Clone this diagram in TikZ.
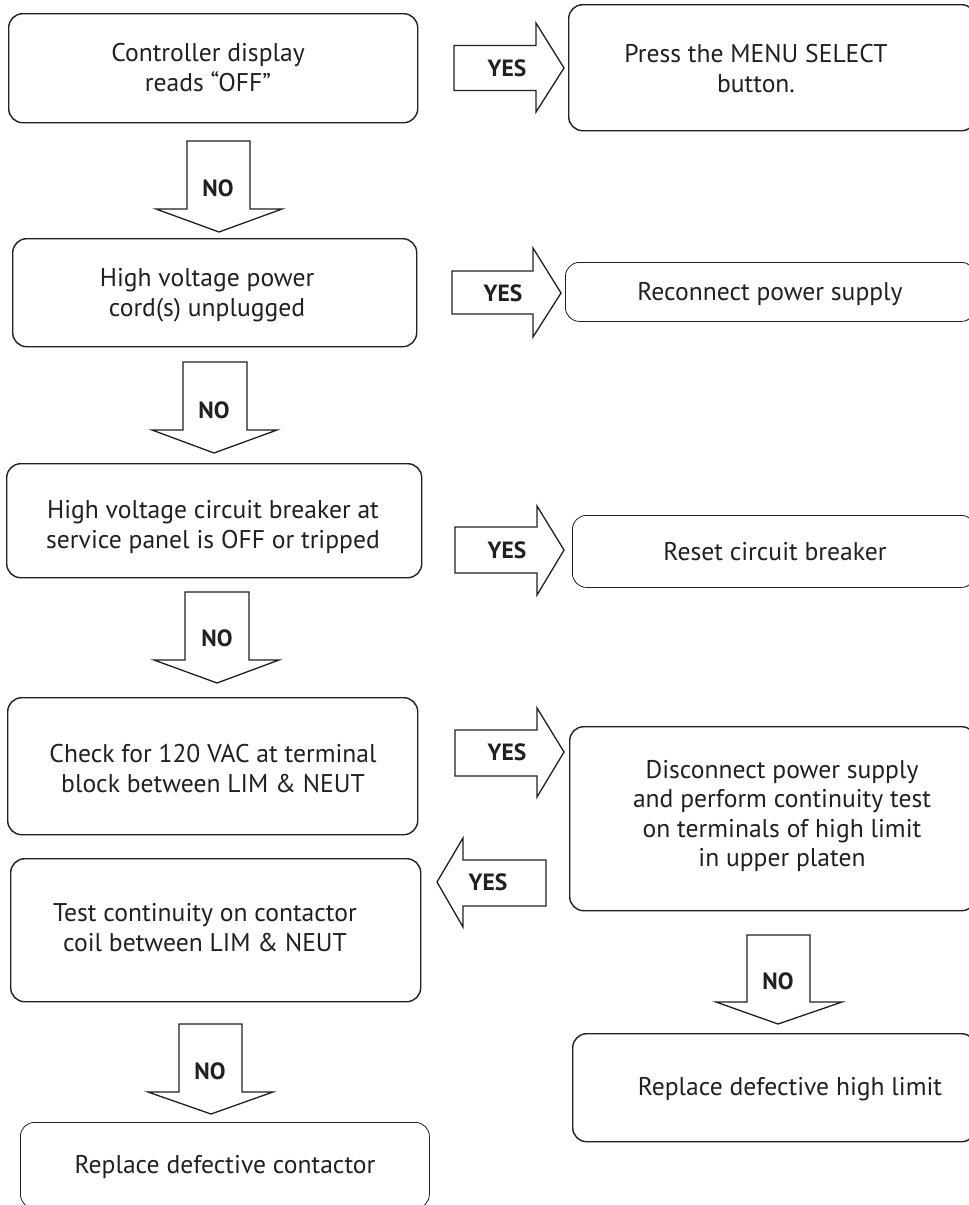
\documentclass[tikz,border=0pt]{standalone}
\usepackage{fontspec}
\setmainfont{PT Sans}
\definecolor{ink}{HTML}{231F20}
\begin{document}
\begin{tikzpicture}[x=1pt,y=-1pt,
  box/.style={draw=ink, line width=1.4pt, rounded corners=14pt, anchor=north west, inner sep=0},
  thinbox/.style={box, line width=0.8pt},
  blk/.style={draw=ink, line width=1.3pt, fill=white, line join=miter},
  txt/.style={text=ink, font=\fontsize{25.6}{30}\selectfont, align=center, inner sep=0},
  lbl/.style={text=ink, font=\bfseries\fontsize{23.5}{28}\selectfont, inner sep=0}]
\useasboundingbox (0,0) rectangle (969,1205);
% boxes
\node[box, minimum width=409pt, minimum height=109pt] (b1) at (8,13) {};
\node[box, minimum width=407pt, minimum height=126pt] (b2) at (568,4) {};
\node[box, minimum width=404pt, minimum height=108pt] (b3) at (12,238) {};
\node[thinbox, minimum width=410pt, minimum height=59pt] (b4) at (565,262) {};
\node[box, minimum width=415pt, minimum height=114pt] (b5) at (6,463) {};
\node[thinbox, minimum width=403pt, minimum height=72pt] (b6) at (572,515) {};
\node[box, minimum width=410pt, minimum height=137pt] (b7) at (7,697) {};
\node[box, minimum width=406pt, minimum height=184pt] (b8) at (569,726) {};
\node[box, minimum width=410pt, minimum height=143pt] (b9) at (10,858) {};
\node[thinbox, minimum width=409pt, minimum height=86pt] (b10) at (20,1122) {};
\node[box, minimum width=403pt, minimum height=108pt] (b11) at (572,1033) {};
% texts
\node[txt] (t1) at (208,68) {Controller display\\reads “OFF”};
\node[txt] (t2) at (756,68.5) {Press the MENU SELECT\\button.};
\node[txt] (t3) at (207,295) {High voltage power\\cord(s) unplugged};
\node[txt, anchor=base] (t4) at (770,300) {Reconnect power supply};
\node[txt] (t5) at (213,527) {High voltage circuit breaker at\\service panel is OFF or tripped};
\node[txt, anchor=base] (t6) at (775,560) {Reset circuit breaker};
\node[txt] (t7) at (213,769) {Check for 120 VAC at terminal\\block between LIM \& NEUT};
\node[txt, font=\fontsize{25.6}{29.5}\selectfont] (t8) at (782,816) {Disconnect power supply\\and perform continuity test\\on terminals of high limit\\in upper platen};
\node[txt] (t9) at (205,928) {Test continuity on contactor\\coil between LIM \& NEUT};
\node[txt, anchor=base] (t10) at (225,1173) {Replace defective contactor};
\node[txt, anchor=base] (t11) at (790,1095) {Replace defective high limit};
% right block arrows
\draw[blk] (454,45.5) -- (536,45.5) -- (536,23) -- (564,68) -- (536,112) -- (536,90.5) -- (454,90.5) -- cycle;
\draw[blk] (452,271) -- (533,271) -- (533,248) -- (561,293) -- (533,337) -- (533,314) -- (452,314) -- cycle;
\draw[blk] (455,527) -- (537,527) -- (537,506) -- (564,550) -- (537,595) -- (537,573) -- (455,573) -- cycle;
\draw[blk] (455,730) -- (537,730) -- (537,708) -- (564,752) -- (537,797) -- (537,776) -- (455,776) -- cycle;
% left block arrow
\draw[blk] (546,860) -- (463,860) -- (463,838) -- (437,882) -- (463,927) -- (463,906) -- (546,906) -- cycle;
% down block arrows
\draw[blk] (187,141) -- (250,141) -- (250,209) -- (282,209) -- (219,232) -- (156,209) -- (187,209) -- cycle;
\draw[blk] (183,362) -- (247,362) -- (247,430) -- (277,430) -- (214,453) -- (152,430) -- (183,430) -- cycle;
\draw[blk] (185,592) -- (249,592) -- (249,660) -- (279,660) -- (217,683) -- (154,660) -- (185,660) -- cycle;
\draw[blk] (179,1024) -- (242,1024) -- (242,1092) -- (273,1092) -- (211,1114) -- (148,1092) -- (179,1092) -- cycle;
\draw[blk] (747,935) -- (810,935) -- (810,1002) -- (842,1002) -- (778,1024) -- (716,1002) -- (747,1002) -- cycle;
% labels
\node[lbl] (y1) at (507,68) {YES};
\node[lbl] (y2) at (503,293) {YES};
\node[lbl] (y3) at (507,550) {YES};
\node[lbl] (y4) at (507,752) {YES};
\node[lbl] (y5) at (488,882) {YES};
\node[lbl] (n1) at (218,188) {NO};
\node[lbl] (n2) at (214,410) {NO};
\node[lbl] (n3) at (217,638) {NO};
\node[lbl] (n4) at (210,1071) {NO};
\node[lbl] (n5) at (778,981) {NO};
\end{tikzpicture}
\end{document}
